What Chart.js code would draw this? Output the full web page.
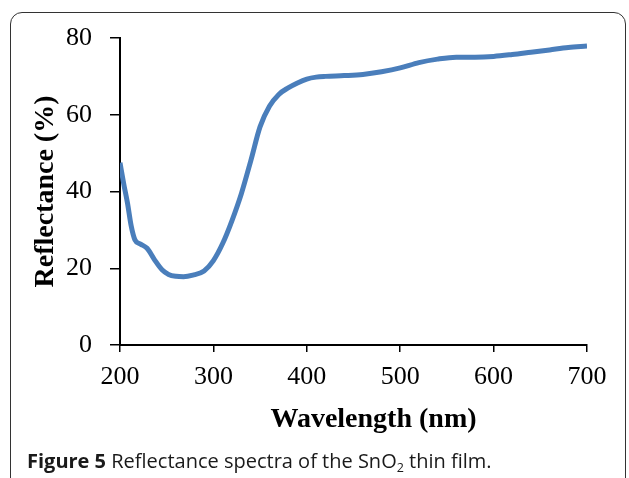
<!DOCTYPE html>
<html>
<head>
<meta charset="utf-8">
<script src="https://cdn.jsdelivr.net/npm/chart.js@4/dist/chart.umd.min.js"></script>
<style>
html,body{margin:0;padding:0;background:#fff;overflow:hidden;width:629px;height:478px}
#frame{position:absolute;left:10px;top:12px;width:614px;height:520px;border:1.5px solid #333;border-radius:12px}
#chart{position:absolute;left:0;top:0}
#caption{position:absolute;left:27px;top:450px;font-family:"Open Sans",sans-serif;font-size:20px;line-height:22px;color:#1a1a1a;white-space:nowrap}
#caption b{font-weight:700}
#caption sub{font-size:12.5px;vertical-align:-4px;line-height:0}
</style>
</head>
<body>
<div id="frame"></div>
<canvas id="chart" width="629" height="478"></canvas>
<div id="caption"><b>Figure 5</b> Reflectance spectra of the SnO<sub>2</sub> thin film.</div>
<script>
/* DATA */
const wavelength=[200,204,208,212,216,222,229,237,245,252,260,268,278,290,300,310,320,330,340,350,360,370,380,390,400,410,420,440,460,480,500,520,540,560,580,600,620,640,660,680,700];
const reflectance=[47.5,42,37,31,27.4,26.3,25.2,22.2,19.6,18.4,17.9,17.8,18.2,19.3,22,26.5,32.5,39.5,48,56.9,62.2,65.3,67,68.3,69.3,69.8,70,70.2,70.5,71.2,72.2,73.6,74.5,75,75,75.2,75.7,76.3,76.9,77.5,77.9];
const xTicks=[200,300,400,500,600,700];
const yTicks=[0,20,40,60,80];
const xTitle="Wavelength (nm)";
const yTitle="Reflectance (%)";

const points=wavelength.map((w,i)=>({x:w,y:reflectance[i]}));

/* X TITLE (drawn a bit right of centre, like the original) */
const xTitlePlugin={
id:"xTitle",
afterDraw(chart){
const ctx=chart.ctx;
const a=chart.chartArea;
ctx.save();
ctx.font="bold 28px 'Liberation Serif'";
ctx.fillStyle="#000";
ctx.textAlign="center";
ctx.textBaseline="middle";
ctx.fillText(xTitle,(a.left+a.right)/2+20,420);
ctx.restore();
}
};

new Chart(document.getElementById("chart"),{
type:"scatter",
data:{
datasets:[{
data:points,
showLine:true,
borderColor:"#4a7ebb",
borderWidth:5,
pointRadius:0,
cubicInterpolationMode:"monotone",
fill:false
}]
},
options:{
responsive:false,
animation:false,
layout:{padding:{left:0,top:38,right:42,bottom:0}},
plugins:{legend:{display:false},tooltip:{enabled:false}},
scales:{
x:{
type:"linear",
min:200,max:700,
afterBuildTicks:s=>{s.ticks=xTicks.map(v=>({value:v}));},
afterFit:s=>{s.height=133;},
ticks:{color:"#000",padding:10,font:{family:"Liberation Serif",size:26}},
grid:{drawOnChartArea:false,tickLength:7,color:"#000",lineWidth:1.5},
border:{display:true,color:"#000",width:2}
},
y:{
min:0,max:80,
afterBuildTicks:s=>{s.ticks=yTicks.map(v=>({value:v}));},
afterFit:s=>{s.width=120;},
ticks:{color:"#000",padding:18,font:{family:"Liberation Serif",size:26}},
grid:{drawOnChartArea:false,tickLength:10,color:"#000",lineWidth:1.5},
border:{display:true,color:"#000",width:2},
title:{display:true,text:yTitle,color:"#000",padding:{top:29,bottom:0},font:{family:"Liberation Serif",size:28,weight:"bold"}}
}
}
},
plugins:[xTitlePlugin]
});
</script>
</body>
</html>
